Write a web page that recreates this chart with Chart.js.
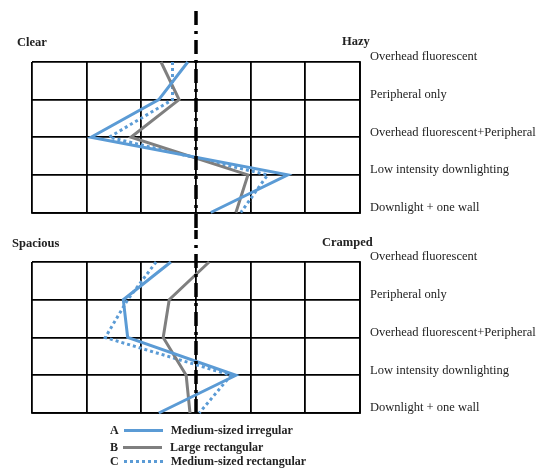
<!DOCTYPE html>
<html>
<head>
<meta charset="utf-8">
<script src="https://cdn.jsdelivr.net/npm/chart.js@4/dist/chart.umd.min.js"></script>
<style>
  body { margin: 0; background: #fff; }
  #wrap { position: relative; width: 537px; height: 470px; font-family: 'Liberation Serif', serif; color: #222; }
  .box { position: absolute; left: 0; width: 537px; }
  .pole { position: absolute; font-weight: bold; font-size: 12.5px; line-height: 1; }
  .leg { position: absolute; left: 110px; font-weight: bold; font-size: 12px; line-height: 1; display: flex; align-items: center; }
  .leg span.sw { display: inline-block; width: 39px; margin: 0 8px 0 5px; }
</style>
</head>
<body>
<div id="wrap">
  <div class="box" style="top:0;height:230px"><canvas id="topChart"></canvas></div>
  <div class="box" style="top:230px;height:210px"><canvas id="bottomChart"></canvas></div>
  <div class="pole" style="left:17px;top:36px">Clear</div>
  <div class="pole" style="left:342px;top:35px">Hazy</div>
  <div class="pole" style="left:12px;top:237px">Spacious</div>
  <div class="pole" style="left:322px;top:236px">Cramped</div>
  <div class="leg" style="top:424px">A<span class="sw" style="border-top:3px solid #5b9bd5"></span>Medium-sized irregular</div>
  <div class="leg" style="top:441px">B<span class="sw" style="border-top:3px solid #7f7f7f"></span>Large rectangular</div>
  <div class="leg" style="top:455px">C<span class="sw" style="border-top:3px dotted #5b9bd5"></span>Medium-sized rectangular</div>
</div>
<script>
// lighting conditions (rows)
const conditions = ["Overhead fluorescent", "Peripheral only", "Overhead fluorescent+Peripheral", "Low intensity downlighting", "Downlight + one wall"];

// Clear (-3) ... Hazy (+3)
const clearA = [-0.15, -0.68, -1.92, 1.68, 0.27];
const clearB = [-0.64, -0.31, -1.19, 0.95, 0.73];
const clearC = [-0.43, -0.43, -1.59, 1.31, 0.82];

// Spacious (-3) ... Cramped (+3)
const spaciousA = [-0.46, -1.33, -1.25, 0.73, -0.68];
const spaciousB = [0.24, -0.49, -0.60, -0.18, -0.11];
const spaciousC = [-0.73, -1.25, -1.66, 0.64, 0.06];

const blue = '#5b9bd5';
const gray = '#7f7f7f';

// dash-dot line at the neutral point
const midLine = {
  id: 'midLine',
  afterDatasetsDraw(chart, args, opts) {
    const c = chart.ctx;
    const x = chart.scales.x.getPixelForValue(0);
    c.save();
    c.strokeStyle = '#000';
    c.lineWidth = 3.5;
    c.setLineDash([14, 6, 3, 6]);
    c.lineDashOffset = opts.offset || 0;
    c.beginPath();
    c.moveTo(x, opts.from);
    c.lineTo(x, opts.to);
    c.stroke();
    c.restore();
  }
};

function makeChart(id, a, b, c, pad, lineFrom, lineTo, offset) {
  return new Chart(document.getElementById(id), {
    type: 'line',
    data: {
      labels: conditions,
      datasets: [
        { label: 'A', data: a, borderColor: blue, borderWidth: 3 },
        { label: 'B', data: b, borderColor: gray, borderWidth: 3 },
        { label: 'C', data: c, borderColor: blue, borderWidth: 3, borderDash: [3, 3] }
      ]
    },
    options: {
      indexAxis: 'y',
      responsive: true,
      maintainAspectRatio: false,
      animation: false,
      events: [],
      elements: { point: { radius: 0 }, line: { tension: 0 } },
      layout: { padding: pad },
      plugins: {
        legend: { display: false },
        tooltip: { enabled: false },
        midLine: { from: lineFrom, to: lineTo, offset: offset }
      },
      scales: {
        x: {
          type: 'linear', min: -3, max: 3,
          ticks: { display: false, stepSize: 1 },
          grid: { color: '#000', lineWidth: 1.8, drawTicks: false },
          border: { color: '#000', width: 1.8 },
          afterFit(s) { s.height = 0; }
        },
        y: {
          type: 'category', position: 'right', offset: false,
          ticks: { color: '#222', padding: 10, labelOffset: -5, font: { family: 'Liberation Serif', size: 12.5 } },
          grid: { color: '#000', lineWidth: 1.8, drawTicks: false },
          border: { color: '#000', width: 1.8 },
          afterFit(s) { s.width = 177; }
        }
      }
    },
    plugins: [midLine]
  });
}

makeChart('topChart', clearA, clearB, clearC, { left: 32, top: 62, bottom: 17, right: 0 }, 11, 230, 0);
makeChart('bottomChart', spaciousA, spaciousB, spaciousC, { left: 32, top: 32, bottom: 27, right: 0 }, 0, 188, 5);
</script>
</body>
</html>
